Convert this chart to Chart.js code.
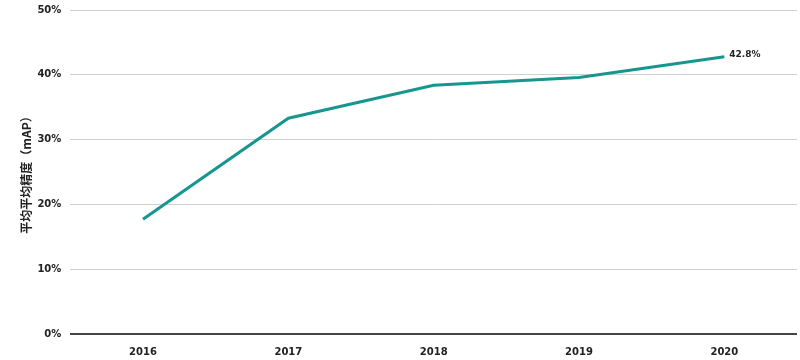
<!DOCTYPE html>
<html lang="zh">
<head>
    <meta charset="UTF-8">
    <title>平均平均精度（mAP）</title>
    <script src="https://cdn.jsdelivr.net/npm/chart.js"></script>
    <style>
        html, body { margin: 0; padding: 0; background: #fff; }
        #wrap { width: 800px; height: 360px; }
    </style>
</head>
<body>
    <div id="wrap"><canvas id="mapChart"></canvas></div>
    <script>
        const years = ['2016', '2017', '2018', '2019', '2020'];
        const mapValues = [17.7, 33.3, 38.4, 39.6, 42.8];
        const yTicks = [0, 10, 20, 30, 40, 50];

        const tickFont = '"DejaVu Sans", sans-serif';
        const cjkFont = '"Noto Sans CJK SC", "Noto Sans", sans-serif';

        // label next to the last point
        const lastLabel = {
            id: 'lastLabel',
            afterDatasetsDraw(chart) {
                const meta = chart.getDatasetMeta(0);
                const pt = meta.data[meta.data.length - 1];
                const ctx = chart.ctx;
                ctx.save();
                ctx.font = 'bold 9px ' + tickFont;
                ctx.fillStyle = '#222';
                ctx.textAlign = 'left';
                ctx.textBaseline = 'middle';
                ctx.fillText(mapValues[mapValues.length - 1] + '%', pt.x + 5, pt.y - 2);
                ctx.restore();
            }
        };

        const ctx = document.getElementById('mapChart').getContext('2d');
        new Chart(ctx, {
            type: 'line',
            data: {
                labels: years,
                datasets: [{
                    data: mapValues,
                    borderColor: '#17968f',
                    borderWidth: 3,
                    pointRadius: 0,
                    tension: 0,
                    fill: false
                }]
            },
            options: {
                responsive: true,
                maintainAspectRatio: false,
                animation: false,
                layout: { padding: { top: 10, right: 3, left: 19, bottom: -10 } },
                plugins: {
                    legend: { display: false },
                    tooltip: { enabled: false }
                },
                scales: {
                    x: {
                        offset: true,
                        grid: { display: false, drawTicks: false },
                        border: { display: false },
                        ticks: {
                            color: '#222',
                            padding: 12,
                            maxRotation: 0,
                            font: { family: tickFont, size: 10, weight: 'bold' }
                        }
                    },
                    y: {
                        min: 0,
                        max: 50,
                        afterBuildTicks(axis) {
                            axis.ticks = yTicks.map(v => ({ value: v }));
                        },
                        grid: {
                            drawTicks: true,
                            tickLength: 9,
                            tickColor: 'rgba(0,0,0,0)',
                            color: c => c.tick && c.tick.value === 0 ? '#444' : '#d0d0d0',
                            lineWidth: c => c.tick && c.tick.value === 0 ? 2 : 1
                        },
                        border: { display: false },
                        ticks: {
                            color: '#222',
                            padding: 0,
                            font: { family: tickFont, size: 10, weight: 'bold' },
                            callback: v => v + '%'
                        },
                        title: {
                            display: true,
                            text: '平均平均精度（mAP）',
                            color: '#222',
                            padding: { top: 0, bottom: 4 },
                            font: { family: cjkFont, size: 12, weight: 'bold' }
                        }
                    }
                }
            },
            plugins: [lastLabel]
        });
    </script>
</body>
</html>
